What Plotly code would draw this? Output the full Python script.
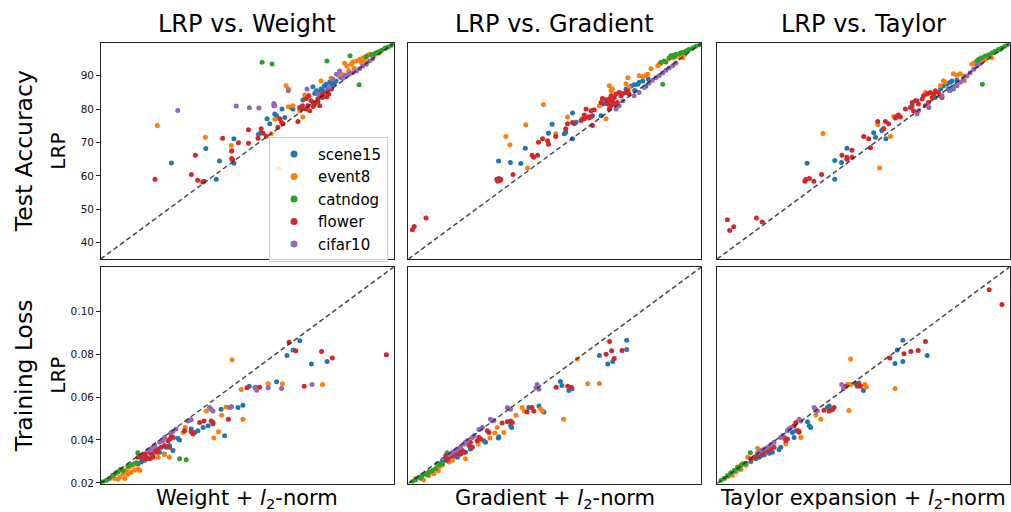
import plotly.graph_objects as go

# ---------------- data ----------------
DATASETS = ["scene15", "event8", "catndog", "flower", "cifar10"]
COLORS = ["#1f77b4", "#ff7f0e", "#2ca02c", "#d62728", "#9467bd"]
COL_TITLES = ["LRP vs. Weight", "LRP vs. Gradient", "LRP vs. Taylor"]
ROW_TITLES = ["Test Accuracy", "Training Loss"]
X_TITLES = ["Weight + <i>l</i><sub>2</sub>-norm",
            "Gradient + <i>l</i><sub>2</sub>-norm",
            "Taylor expansion + <i>l</i><sub>2</sub>-norm"]
ACC_TICKS = [40, 50, 60, 70, 80, 90]
LOSS_TICKS = [0.02, 0.04, 0.06, 0.08, 0.10]
ACC_RANGE = [35.1, 99.7]
LOSS_RANGE = [0.0197, 0.1206]

# --- Test accuracy: LRP (y) vs Weight (x)
acc_weight_scene15 = [(50.7,63.9),(58.3,68.2),(60.6,59.0),(61.3,64.5),(64.5,71.1),(64.5,63.8),(69.9,72.4),(70.4,73.0),
    (71.8,77.1),(72.4,75.6),(73.3,81.0),(73.5,78.5),(73.9,78.0),(75.1,80.0),(75.7,77.5),(77.5,80.0),(77.1,80.5),(79.7,82.7),
    (80.1,83.1),(81.9,86.7),(82.3,84.7),(82.7,85.5),(83.7,86.0),(84.4,86.9),(84.8,87.4),(85.2,86.3),(85.6,88.0),(86.3,88.1),
    (87.0,88.4),(85.9,87.0),(86.6,87.6),(84.1,85.6),(83.2,84.8),(88.0,89.5),(89.0,90.0)]
acc_weight_event8 = [(47.6,75.1),(58.2,71.6),(63.9,69.1),(64.0,67.4),(74.4,62.2),(76.0,87.0),(76.5,86.0),(80.1,84.2),
    (83.7,88.4),(85.9,89.2),(87.4,90.2),(88.2,90.4),(88.9,93.7),(89.4,92.9),(90.4,93.4),(90.7,94.1),(91.5,94.4),(92.2,94.9),
    (93.0,95.4),(93.7,95.9),(92.6,93.9),(93.3,94.4),(94.0,96.1),(94.4,96.4),(76.5,80.7),(77.5,81.0),(73.5,77.0),(79.0,79.5),
    (79.7,77.6),(72.7,72.6),(95.5,96.3),(96.5,96.8),(89.8,91.5),(91.0,92.2)]
acc_weight_catndog = [(70.7,94.0),(72.9,93.5),(85.0,94.4),(90.1,96.0),(92.1,87.3),(93.7,95.7),(95.5,96.6),(96.2,97.0),
    (97.0,97.5),(97.7,98.1),(98.5,98.6),(99.2,99.1),(95.9,96.9),(96.6,97.2),(94.8,96.3),(98.0,98.3),(99.5,99.5)]
acc_weight_flower = [(47.1,59.0),(55.1,60.4),(56.0,66.2),(56.5,58.7),(57.6,58.2),(57.9,58.4),(62.0,71.3),(64.0,67.5),
    (64.0,65.2),(64.2,64.8),(65.5,69.9),(67.7,69.8),(67.7,73.8),(69.8,71.3),(71.6,71.9),(70.5,74.1),(70.9,72.8),(74.2,74.6),
    (74.6,77.1),(75.3,75.6),(75.0,76.0),(78.6,76.3),(79.3,80.2),(80.5,83.2),(81.5,82.5),(81.9,82.0),(80.8,81.0),(80.4,80.0),
    (81.2,79.5),(82.3,81.5),(83.0,83.0),(83.4,84.0),(84.1,84.5),(84.9,85.0),(85.4,84.5),(83.4,81.0),(82.0,80.8),(84.0,83.5),
    (85.0,83.6),(79.6,81.0),(79.0,80.5),(83.0,82.2),(86.0,86.0),(81.0,84.0)]
acc_weight_cifar10 = [(52.1,79.6),(65.0,80.9),(67.9,80.4),(70.0,80.3),(73.3,81.7),(73.5,81.0),(76.5,85.5),(80.6,86.0),
    (82.9,84.5),(87.1,90.4),(87.8,91.4),(89.0,90.2),(90.0,90.6),(90.7,90.9),(91.5,91.4),(92.2,92.1),(92.9,92.9),(93.7,93.4),
    (94.4,94.4),(95.1,95.1),(88.5,89.2),(86.3,88.9),(85.5,86.6)]

# --- Test accuracy: LRP (y) vs Gradient (x)
acc_grad_scene15 = [(55.0,64.5),(57.6,64.0),(59.9,63.7),(60.9,68.3),(54.6,59.0),(66.0,72.8),(66.8,75.5),(71.3,71.1),
    (71.3,78.8),(69.5,72.6),(69.8,73.1),(71.7,75.6),(72.1,76.1),(73.5,77.1),(75.0,77.3),(75.7,78.0),(77.6,78.0),(78.0,81.5),
    (78.7,82.0),(79.4,82.5),(80.1,82.0),(84.2,86.9),(84.9,87.3),(85.7,87.4),(86.0,88.0),(86.8,88.4),(87.5,86.9),(83.5,85.0),
    (83.1,86.0),(88.0,89.0),(85.0,85.6)]
acc_grad_event8 = [(56.6,71.8),(57.5,69.3),(61.0,75.3),(61.4,62.4),(64.9,81.4),(67.6,72.6),(70.2,77.6),(77.2,81.0),
    (78.7,77.1),(79.4,87.0),(79.8,85.5),(80.1,86.0),(83.5,89.4),(83.1,87.6),(83.8,86.5),(86.0,90.0),(86.8,89.7),(87.5,90.2),
    (87.9,90.4),(88.6,92.1),(90.1,93.0),(90.4,93.4),(90.8,93.7),(92.6,95.1),(93.4,95.4),(94.1,95.9),(94.9,95.7),(95.6,95.4),
    (96.0,96.4)]
acc_grad_catndog = [(91.2,87.4),(90.8,94.0),(91.5,94.4),(91.9,94.1),(92.6,95.4),(93.0,96.0),(93.4,96.1),(94.1,96.4),
    (94.9,96.6),(95.6,97.0),(96.3,97.3),(97.0,97.8),(97.8,98.3),(98.5,98.8),(99.3,99.3),(93.8,95.7),(95.2,96.8),(96.7,97.6)]
acc_grad_flower = [(36.0,43.9),(36.4,44.9),(39.0,47.4),(54.8,58.4),(55.1,59.2),(55.5,58.9),(55.3,58.6),(58.2,60.4),
    (62.4,66.2),(62.7,65.6),(63.6,66.2),(63.8,70.1),(64.7,71.1),(65.8,70.5),(66.0,69.5),(67.6,71.8),(70.2,75.6),(69.8,74.1),
    (71.3,76.0),(73.2,76.6),(73.9,77.1),(74.3,80.0),(75.4,79.5),(76.1,79.8),(73.9,78.2),(74.8,77.6),(75.4,77.8),(75.7,75.1),
    (77.6,82.0),(77.9,83.2),(78.7,82.8),(79.4,83.0),(79.8,84.0),(80.1,82.5),(80.5,83.5),(80.9,84.5),(81.6,85.0),(82.0,84.0),
    (82.4,84.7),(83.1,85.0),(83.5,85.5),(83.8,84.5),(79.8,81.0),(80.5,81.5),(81.2,82.0),(79.0,81.5),(79.4,80.0)]
acc_grad_cifar10 = [(80.9,80.0),(81.6,81.0),(82.4,82.5),(84.9,84.0),(86.0,85.0),(87.1,86.5),(88.2,87.8),(88.9,88.6),
    (89.7,89.4),(90.4,90.0),(91.2,90.8),(91.9,91.6),(92.6,92.3),(93.4,93.0),(94.1,93.8)]

# --- Test accuracy: LRP (y) vs Taylor (x)
acc_taylor_scene15 = [(55.0,63.8),(61.1,64.6),(61.1,59.0),(62.6,64.0),(63.8,68.3),(72.4,71.1),(69.7,72.9),(70.1,71.6),
    (71.5,73.6),(71.9,74.1),(78.2,81.0),(79.3,82.5),(85.1,87.0),(85.9,87.5),(86.2,86.0),(86.6,88.0),(87.0,88.4),(87.7,87.0),
    (88.1,88.6),(87.3,86.0),(83.3,83.5),(84.5,86.0)]
acc_taylor_event8 = [(58.5,72.7),(71.0,62.4),(70.6,75.3),(73.4,71.8),(74.1,77.8),(81.1,85.0),(81.5,84.5),(84.4,87.0),
    (85.5,88.0),(85.1,88.5),(87.3,90.6),(88.1,90.1),(88.8,90.6),(89.6,89.9),(89.7,88.4),(91.8,93.7),(92.1,93.9),(91.4,93.4),
    (92.9,93.7),(93.6,94.1),(94.3,94.9),(94.7,95.4),(95.1,95.9),(95.8,95.4)]
acc_taylor_catndog = [(93.7,87.4),(92.5,94.4),(92.9,94.9),(94.3,95.9),(95.1,96.3),(95.8,96.8),(96.5,97.3),(97.3,97.8),
    (98.0,98.3),(98.7,98.8),(99.3,99.3),(93.5,95.4),(96.9,97.4),(97.7,97.9)]
acc_taylor_flower = [(37.4,46.9),(37.9,43.7),(38.8,44.8),(43.8,47.4),(45.1,46.2),(54.5,58.4),(54.7,58.9),(55.5,59.2),
    (56.5,58.4),(58.2,60.4),(62.7,66.2),(63.8,65.6),(63.8,65.0),(64.9,65.6),(64.9,67.7),(67.5,71.8),(68.6,71.1),(69.0,68.4),
    (70.6,76.3),(71.9,74.1),(72.3,76.3),(73.0,75.6),(74.5,77.3),(74.9,77.9),(75.2,78.2),(75.6,77.6),(76.7,80.0),(77.8,80.5),
    (78.5,79.5),(78.2,82.0),(78.9,82.5),(79.6,81.5),(80.4,83.0),(80.7,84.0),(81.5,84.5),(82.2,85.0),(82.6,83.5),(83.0,84.5),
    (83.3,85.5),(84.0,85.0),(84.4,84.0),(84.8,83.5),(81.8,82.0),(81.1,81.0)]
acc_taylor_cifar10 = [(79.3,78.5),(79.6,79.5),(81.5,81.0),(81.9,80.5),(84.8,84.0),(86.5,85.5),(88.1,87.0),(88.8,88.0),
    (89.5,88.9),(90.3,89.9),(91.0,90.9),(91.8,91.9),(92.5,92.9),(93.2,93.6),(87.3,86.5)]

# --- Training loss: LRP (y) vs Weight (x)
loss_weight_scene15 = [(0.0883,0.0862),(0.0860,0.0820),(0.0839,0.0794),(0.0923,0.0754),(0.0977,0.0766),(0.0803,0.0671),
    (0.0709,0.0651),(0.0731,0.0646),(0.0670,0.0551),(0.0687,0.0562),(0.0647,0.0555),(0.0612,0.0543),(0.0624,0.0420),
    (0.0584,0.0474),(0.0567,0.0466),(0.0550,0.0458),(0.0532,0.0443),(0.0521,0.0435),(0.0509,0.0451),(0.0469,0.0400),
    (0.0463,0.0408),(0.0446,0.0351),(0.0434,0.0374),(0.0423,0.0366),(0.0417,0.0335),(0.0377,0.0328),(0.0360,0.0312),
    (0.0349,0.0305),(0.0337,0.0297),(0.0326,0.0289),(0.0314,0.0289),(0.0400,0.0343),(0.0355,0.0320),(0.0340,0.0310)]
loss_weight_event8 = [(0.0650,0.0774),(0.0774,0.0662),(0.0823,0.0662),(0.0961,0.0659),(0.0681,0.0635),(0.0687,0.0497),
    (0.0629,0.0554),(0.0614,0.0515),(0.0603,0.0438),(0.0587,0.0409),(0.0561,0.0535),(0.0488,0.0458),(0.0481,0.0435),
    (0.0417,0.0332),(0.0434,0.0320),(0.0395,0.0320),(0.0239,0.0237),(0.0251,0.0251),(0.0263,0.0228),(0.0274,0.0243),
    (0.0286,0.0259),(0.0297,0.0274),(0.0309,0.0282),(0.0314,0.0259),(0.0280,0.0220),(0.0257,0.0217),(0.0245,0.0220),
    (0.0326,0.0266),(0.0332,0.0258),(0.0268,0.0262),(0.0290,0.0240),(0.0302,0.0250)]
loss_weight_catndog = [(0.0469,0.0312),(0.0492,0.0308),(0.0325,0.0340),(0.0291,0.0279),(0.0303,0.0284),(0.0320,0.0294),
    (0.0274,0.0258),(0.0257,0.0251),(0.0240,0.0235),(0.0228,0.0220),(0.0217,0.0212),(0.0205,0.0205),(0.0265,0.0262),
    (0.0248,0.0244)]
loss_weight_flower = [(0.1181,0.0797),(0.0846,0.0856),(0.0869,0.0816),(0.0958,0.0813),(0.0995,0.0782),(0.0898,0.0651),
    (0.0745,0.0646),(0.0701,0.0643),(0.0637,0.0497),(0.0578,0.0489),(0.0584,0.0481),(0.0553,0.0489),(0.0538,0.0481),
    (0.0509,0.0438),(0.0515,0.0428),(0.0486,0.0443),(0.0447,0.0412),(0.0435,0.0405),(0.0440,0.0420),(0.0429,0.0397),
    (0.0434,0.0366),(0.0417,0.0374),(0.0337,0.0328),(0.0349,0.0335),(0.0360,0.0343),(0.0372,0.0335),(0.0383,0.0351),
    (0.0394,0.0358),(0.0406,0.0366),(0.0354,0.0320),(0.0366,0.0312),(0.0343,0.0312),(0.0377,0.0320),(0.0326,0.0320),
    (0.0390,0.0343)]
loss_weight_cifar10 = [(0.0774,0.0643),(0.0925,0.0659),(0.0820,0.0640),(0.0728,0.0643),(0.0734,0.0632),(0.0578,0.0543),
    (0.0584,0.0535),(0.0572,0.0551),(0.0640,0.0551),(0.0647,0.0554),(0.0497,0.0489),(0.0503,0.0492),(0.0509,0.0494),
    (0.0457,0.0451),(0.0440,0.0435),(0.0446,0.0439),(0.0417,0.0412),(0.0411,0.0397),(0.0400,0.0389),(0.0383,0.0374),
    (0.0377,0.0366),(0.0372,0.0358),(0.0360,0.0351)]

# --- Training loss: LRP (y) vs Gradient (x)
loss_grad_scene15 = [(0.0949,0.0865),(0.0949,0.0822),(0.0855,0.0794),(0.0901,0.0766),(0.0884,0.0754),(0.0721,0.0673),
    (0.0726,0.0654),(0.0750,0.0631),(0.0761,0.0639),(0.0647,0.0558),(0.0664,0.0531),(0.0612,0.0551),(0.0549,0.0466),
    (0.0553,0.0458),(0.0509,0.0415),(0.0507,0.0409),(0.0463,0.0389),(0.0457,0.0397),(0.0417,0.0366),(0.0411,0.0358),
    (0.0394,0.0343),(0.0377,0.0335),(0.0360,0.0328),(0.0343,0.0320),(0.0332,0.0312),(0.0325,0.0305),(0.0303,0.0289),
    (0.0314,0.0297),(0.0366,0.0320),(0.0349,0.0310)]
loss_grad_event8 = [(0.0779,0.0777),(0.0815,0.0662),(0.0855,0.0663),(0.0732,0.0497),(0.0589,0.0551),(0.0597,0.0535),
    (0.0568,0.0515),(0.0658,0.0538),(0.0652,0.0546),(0.0503,0.0458),(0.0526,0.0435),(0.0478,0.0409),(0.0495,0.0432),
    (0.0438,0.0381),(0.0394,0.0312),(0.0349,0.0305),(0.0337,0.0297),(0.0222,0.0220),(0.0240,0.0228),(0.0257,0.0243),
    (0.0274,0.0251),(0.0291,0.0266),(0.0303,0.0274),(0.0314,0.0282),(0.0268,0.0235),(0.0285,0.0243),(0.0250,0.0213),
    (0.0300,0.0256)]
loss_grad_catndog = [(0.0331,0.0340),(0.0297,0.0289),(0.0303,0.0284),(0.0314,0.0289),(0.0234,0.0226),(0.0245,0.0235),
    (0.0257,0.0243),(0.0268,0.0251),(0.0280,0.0258),(0.0291,0.0266),(0.0211,0.0207),(0.0222,0.0215),(0.0240,0.0222),
    (0.0262,0.0238)]
loss_grad_flower = [(0.0890,0.0859),(0.0897,0.0816),(0.0878,0.0800),(0.0933,0.0817),(0.0906,0.0780),(0.0706,0.0646),
    (0.0746,0.0651),(0.0758,0.0646),(0.0629,0.0535),(0.0606,0.0531),(0.0623,0.0551),(0.0520,0.0479),(0.0538,0.0485),
    (0.0549,0.0489),(0.0555,0.0481),(0.0469,0.0443),(0.0475,0.0435),(0.0440,0.0412),(0.0446,0.0405),(0.0434,0.0397),
    (0.0411,0.0389),(0.0406,0.0374),(0.0417,0.0366),(0.0383,0.0351),(0.0372,0.0343),(0.0360,0.0335),(0.0349,0.0328),
    (0.0337,0.0320),(0.0326,0.0328),(0.0377,0.0335),(0.0389,0.0343),(0.0331,0.0305)]
loss_grad_cifar10 = [(0.0641,0.0659),(0.0647,0.0636),(0.0637,0.0643),(0.0538,0.0551),(0.0549,0.0543),(0.0543,0.0546),
    (0.0480,0.0497),(0.0486,0.0489),(0.0492,0.0491),(0.0452,0.0458),(0.0445,0.0451),(0.0440,0.0449),(0.0423,0.0420),
    (0.0417,0.0412),(0.0400,0.0397),(0.0394,0.0389),(0.0389,0.0381),(0.0377,0.0366),(0.0366,0.0358),(0.0360,0.0351),
    (0.0349,0.0343),(0.0337,0.0332)]

# --- Training loss: LRP (y) vs Taylor (x)
loss_taylor_scene15 = [(0.0838,0.0865),(0.0819,0.0820),(0.0922,0.0794),(0.0838,0.0766),(0.0811,0.0756),(0.0681,0.0651),
    (0.0687,0.0666),(0.0675,0.0663),(0.0702,0.0631),(0.0584,0.0558),(0.0595,0.0543),(0.0578,0.0551),(0.0509,0.0485),
    (0.0515,0.0466),(0.0520,0.0458),(0.0463,0.0412),(0.0457,0.0435),(0.0469,0.0443),(0.0417,0.0366),(0.0411,0.0355),
    (0.0388,0.0343),(0.0377,0.0338),(0.0360,0.0330),(0.0343,0.0320),(0.0331,0.0312),(0.0314,0.0300),(0.0350,0.0328)]
loss_taylor_event8 = [(0.0658,0.0777),(0.0811,0.0640),(0.0707,0.0659),(0.0712,0.0647),(0.0652,0.0538),(0.0647,0.0659),
    (0.0658,0.0659),(0.0555,0.0497),(0.0538,0.0517),(0.0480,0.0443),(0.0486,0.0412),(0.0434,0.0381),(0.0337,0.0361),
    (0.0303,0.0320),(0.0285,0.0289),(0.0268,0.0274),(0.0257,0.0258),(0.0245,0.0243),(0.0234,0.0230),(0.0222,0.0220),
    (0.0280,0.0262),(0.0297,0.0282),(0.0263,0.0251),(0.0250,0.0235)]
loss_taylor_catndog = [(0.0312,0.0340),(0.0290,0.0289),(0.0280,0.0282),(0.0268,0.0272),(0.0257,0.0258),(0.0245,0.0247),
    (0.0234,0.0235),(0.0222,0.0222),(0.0211,0.0212),(0.0274,0.0266),(0.0297,0.0292)]
loss_taylor_flower = [(0.1136,0.1100),(0.1180,0.1031),(0.0916,0.0859),(0.0891,0.0817),(0.0866,0.0813),(0.0842,0.0802),
    (0.0793,0.0782),(0.0692,0.0651),(0.0681,0.0659),(0.0641,0.0651),(0.0584,0.0535),(0.0595,0.0543),(0.0601,0.0551),
    (0.0566,0.0539),(0.0475,0.0443),(0.0480,0.0436),(0.0469,0.0482),(0.0463,0.0466),(0.0429,0.0412),(0.0434,0.0397),
    (0.0440,0.0405),(0.0383,0.0358),(0.0372,0.0351),(0.0360,0.0343),(0.0349,0.0335),(0.0337,0.0328),(0.0394,0.0366),
    (0.0326,0.0320),(0.0314,0.0312)]
loss_taylor_cifar10 = [(0.0627,0.0659),(0.0633,0.0639),(0.0532,0.0551),(0.0537,0.0543),(0.0543,0.0535),(0.0480,0.0497),
    (0.0486,0.0489),(0.0445,0.0451),(0.0452,0.0458),(0.0440,0.0443),(0.0417,0.0412),(0.0423,0.0420),(0.0394,0.0389),
    (0.0383,0.0378),(0.0372,0.0366),(0.0360,0.0358),(0.0348,0.0351),(0.0337,0.0340)]

PANELS = [
    [acc_weight_scene15, acc_weight_event8, acc_weight_catndog, acc_weight_flower, acc_weight_cifar10],
    [acc_grad_scene15, acc_grad_event8, acc_grad_catndog, acc_grad_flower, acc_grad_cifar10],
    [acc_taylor_scene15, acc_taylor_event8, acc_taylor_catndog, acc_taylor_flower, acc_taylor_cifar10],
    [loss_weight_scene15, loss_weight_event8, loss_weight_catndog, loss_weight_flower, loss_weight_cifar10],
    [loss_grad_scene15, loss_grad_event8, loss_grad_catndog, loss_grad_flower, loss_grad_cifar10],
    [loss_taylor_scene15, loss_taylor_event8, loss_taylor_catndog, loss_taylor_flower, loss_taylor_cifar10],
]

# ---------------- layout geometry (pixels) ----------------
W, H = 1011, 512
COL_PX = [(100.7, 394.0), (408.7, 702.0), (717.7, 1010.5)]
ROW_PX = [(43.7, 261.7), (269.7, 488.3)]
FONT = "DejaVu Sans"

def fx(px):
    return px / W

def fy(py):
    return 1 - py / H

fig = go.Figure()
layout_axes = {}
for p in range(6):
    r, c = divmod(p, 3)
    n = p + 1
    xa = "x" if n == 1 else f"x{n}"
    ya = "y" if n == 1 else f"y{n}"
    rng = ACC_RANGE if r == 0 else LOSS_RANGE
    for k, pts in enumerate(PANELS[p]):
        fig.add_trace(go.Scatter(
            x=[q[0] for q in pts], y=[q[1] for q in pts], mode="markers",
            marker=dict(color=COLORS[k], size=5, line=dict(width=0)),
            name=DATASETS[k], legendgroup=DATASETS[k], showlegend=False,
            xaxis=xa, yaxis=ya, cliponaxis=True))
    fig.add_trace(go.Scatter(
        x=rng, y=rng, mode="lines", showlegend=False, hoverinfo="skip",
        line=dict(color="rgba(40,40,40,0.85)", width=1.5, dash="5px,3px"),
        xaxis=xa, yaxis=ya))
    xkey = "xaxis" if n == 1 else f"xaxis{n}"
    ykey = "yaxis" if n == 1 else f"yaxis{n}"
    common = dict(showline=True, mirror=True, linecolor="#222", linewidth=1,
                  showgrid=False, zeroline=False)
    layout_axes[xkey] = dict(common, domain=[fx(COL_PX[c][0]), fx(COL_PX[c][1])],
                             range=rng, showticklabels=False, ticks="",
                             anchor=ya)
    yd = dict(common, domain=[fy(ROW_PX[r][1]), fy(ROW_PX[r][0])], range=rng, anchor=xa)
    if c == 0:
        yd.update(ticks="outside", ticklen=3.5, tickwidth=1, tickcolor="#222",
                  tickvals=ACC_TICKS if r == 0 else LOSS_TICKS,
                  tickformat="d" if r == 0 else ".2f",
                  tickfont=dict(family=FONT, size=10.5, color="#111"))
    else:
        yd.update(showticklabels=False, ticks="")
    layout_axes[ykey] = yd

# legend-only entries (larger legend dots, as in the reference)
for k in range(5):
    fig.add_trace(go.Scatter(
        x=[None], y=[None], mode="markers", name=DATASETS[k], legendgroup=DATASETS[k],
        marker=dict(color=COLORS[k], size=7), showlegend=True, xaxis="x", yaxis="y"))

annotations = []
for c in range(3):
    cx = fx((COL_PX[c][0] + COL_PX[c][1]) / 2)
    annotations.append(dict(text=COL_TITLES[c], x=cx, y=fy(24), xref="paper", yref="paper",
                            xanchor="center", yanchor="middle", showarrow=False,
                            font=dict(family=FONT, size=24, color="#000")))
    annotations.append(dict(text=X_TITLES[c], x=cx, y=fy(504), xref="paper", yref="paper",
                            xanchor="center", yanchor="middle", showarrow=False,
                            font=dict(family=FONT, size=21, color="#000")))
for r in range(2):
    cy = fy((ROW_PX[r][0] + ROW_PX[r][1]) / 2)
    annotations.append(dict(text=ROW_TITLES[r], x=fx(24), y=cy, xref="paper", yref="paper",
                            xanchor="center", yanchor="middle", showarrow=False, textangle=-90,
                            font=dict(family=FONT, size=23.5, color="#000")))
    annotations.append(dict(text="LRP", x=fx(58.5), y=cy, xref="paper", yref="paper",
                            xanchor="center", yanchor="middle", showarrow=False, textangle=-90,
                            font=dict(family=FONT, size=20, color="#000")))

fig.update_layout(
    width=W, height=H, autosize=False,
    margin=dict(l=0, r=0, t=0, b=0),
    paper_bgcolor="white", plot_bgcolor="white",
    annotations=annotations,
    legend=dict(x=fx(269.3), y=fy(138), xanchor="left", yanchor="top",
                bgcolor="rgba(255,255,255,0.8)", bordercolor="#cccccc", borderwidth=1,
                font=dict(family=FONT, size=15, color="#000"), itemwidth=38,
                traceorder="normal", tracegroupgap=0),
    **layout_axes,
)
fig.write_html("out.html")
